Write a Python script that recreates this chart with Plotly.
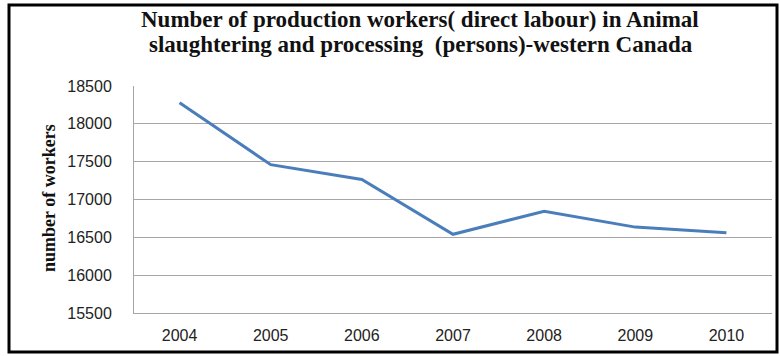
import plotly.graph_objects as go

years = ["2004", "2005", "2006", "2007", "2008", "2009", "2010"]
workers = [18280, 17460, 17265, 16540, 16845, 16635, 16560]
y_ticks = [15500, 16000, 16500, 17000, 17500, 18000, 18500]
title_lines = ["Number of production workers( direct labour) in Animal",
               "slaughtering and processing  (persons)-western Canada"]

W, H = 780, 356
L, R, T, B = 134, 8, 86, 43
pw = W - L - R
ph = H - T - B

def px(x):
    return (x - L) / pw

def py(y):
    return (H - B - y) / ph

fig = go.Figure()
fig.add_trace(go.Scatter(
    x=years, y=workers, mode="lines",
    line=dict(color="#4a7ebb", width=3),
    showlegend=False, hoverinfo="skip",
))

tick_font = dict(family="Liberation Sans", size=16, color="#222")
grid_col = "#a6a6a6"

fig.update_layout(
    width=W, height=H,
    margin=dict(l=L, r=R, t=T, b=B),
    paper_bgcolor="white", plot_bgcolor="white",
    font=dict(family="Liberation Sans", size=16, color="#222222"),
    xaxis=dict(
        type="category", range=[-0.5, 6.5], showgrid=False, showline=True,
        linecolor=grid_col, linewidth=1, ticks="", tickfont=tick_font,
        ticklabelstandoff=8, fixedrange=True,
    ),
    yaxis=dict(
        range=[15500, 18500], tickvals=y_ticks, ticktext=[str(v) for v in y_ticks],
        showgrid=True, gridcolor=grid_col,
        gridwidth=1, showline=True, linecolor=grid_col, linewidth=1, ticks="",
        tickfont=tick_font, zeroline=False, ticklabelstandoff=18, fixedrange=True,
    ),
    annotations=[
        dict(text="<b>%s</b>" % title_lines[0], xref="paper", yref="paper",
             x=px(420), y=py(20), xanchor="center", yanchor="middle",
             showarrow=False, font=dict(family="Liberation Serif", size=23, color="#111")),
        dict(text="<b>%s</b>" % title_lines[1], xref="paper", yref="paper",
             x=px(421), y=py(45), xanchor="center", yanchor="middle",
             showarrow=False, font=dict(family="Liberation Serif", size=23, color="#111")),
        dict(text="<b>number of workers</b>", xref="paper", yref="paper",
             x=px(49), y=py(198), xanchor="center", yanchor="middle", textangle=-90,
             showarrow=False, font=dict(family="Liberation Serif", size=18, color="#111")),
    ],
    shapes=[
        dict(type="rect", xref="paper", yref="paper",
             x0=px(9), x1=px(777), y0=py(352), y1=py(5),
             line=dict(color="black", width=3), fillcolor="rgba(0,0,0,0)", layer="above"),
    ],
)

fig.write_html("out.html")
